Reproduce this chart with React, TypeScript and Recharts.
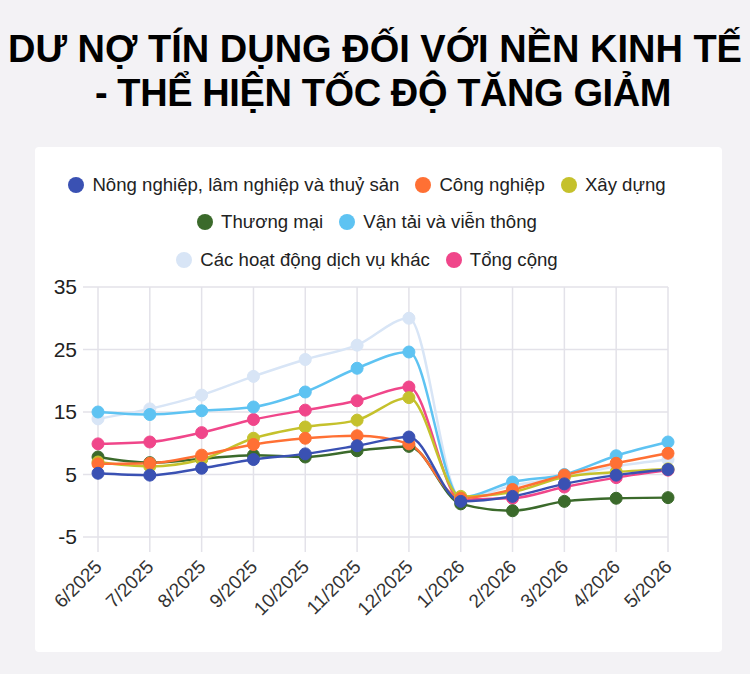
import React from 'react';
import { LineChart, Line, XAxis, YAxis, CartesianGrid, Legend } from 'recharts';

const months = ['6/2025', '7/2025', '8/2025', '9/2025', '10/2025', '11/2025', '12/2025', '1/2026', '2/2026', '3/2026', '4/2026', '5/2026'];
const nongNghiep = [5.2, 4.9, 6.0, 7.4, 8.3, 9.6, 11.0, 0.7, 1.5, 3.5, 4.9, 5.8];
const congNghiep = [6.7, 6.8, 8.1, 9.8, 10.8, 11.2, 9.9, 1.2, 2.6, 4.9, 6.8, 8.4];
const xayDung = [7.0, 6.3, 7.4, 10.8, 12.6, 13.7, 17.3, 1.5, 2.2, 4.6, 5.4, 5.9];
const thuongMai = [7.8, 6.9, 7.5, 8.1, 7.8, 8.8, 9.5, 0.3, -0.8, 0.7, 1.2, 1.3];
const vanTai = [15.0, 14.6, 15.2, 15.8, 18.2, 22.0, 24.6, 1.3, 3.8, 5.0, 8.0, 10.2];
const dichVuKhac = [13.9, 15.5, 17.7, 20.7, 23.4, 25.7, 30.0, 1.2, 3.2, 4.6, 6.3, 7.4];
const tongCong = [9.9, 10.2, 11.7, 13.8, 15.3, 16.8, 19.0, 1.0, 1.2, 3.0, 4.5, 5.7];
const yTicks = [-5, 5, 15, 25, 35];

const seriesNames = [
  'Nông nghiệp, lâm nghiệp và thuỷ sản',
  'Công nghiệp',
  'Xây dựng',
  'Thương mại',
  'Vận tải và viễn thông',
  'Các hoạt động dịch vụ khác',
  'Tổng cộng',
];
const seriesKeys = ['nn', 'cn', 'xd', 'tm', 'vt', 'dv', 'tc'];
const seriesValues = [nongNghiep, congNghiep, xayDung, thuongMai, vanTai, dichVuKhac, tongCong];
const seriesColors = ['#3a51b3', '#ff7034', '#c5c12c', '#3b6a2b', '#5ec3f2', '#d8e5f6', '#f0468a'];
const legendRows = [[0, 1, 2], [3, 4], [5, 6]];

const data = months.map((m, i) => {
  const row: Record<string, any> = { month: m };
  seriesKeys.forEach((k, s) => {
    row[k] = seriesValues[s][i];
  });
  return row;
});

const FONT = '"Liberation Sans", Arial, sans-serif';
const GRID = '#e3e2e9';

const renderLegend = () => (
  <div style={{ height: 122, width: 664, fontFamily: FONT, paddingTop: 1, boxSizing: 'border-box' }}>
    {legendRows.map((row, ri) => (
      <div
        key={ri}
        style={{ display: 'flex', justifyContent: 'center', alignItems: 'center', height: 37.5, gap: 16 }}
      >
        {row.map((si) => (
          <div key={si} style={{ display: 'flex', alignItems: 'center' }}>
            <span
              style={{
                display: 'inline-block',
                width: 16,
                height: 16,
                borderRadius: 8,
                background: seriesColors[si],
                marginRight: 8,
              }}
            />
            <span style={{ fontSize: 18.6, color: '#222' }}>{seriesNames[si]}</span>
          </div>
        ))}
      </div>
    ))}
  </div>
);

const XTick = (props: any) => {
  const { x, y, payload } = props;
  const ax = x + 5;
  const ay = y + 14;
  return (
    <text
      x={ax}
      y={ay}
      transform={`rotate(-45, ${ax}, ${ay})`}
      textAnchor="end"
      fontSize={19}
      fontFamily={FONT}
      fill="#333"
    >
      {payload.value}
    </text>
  );
};

export default function App() {
  const order = [6, 5, 4, 3, 2, 1, 0];
  return (
    <div
      style={{
        position: 'absolute',
        left: 0,
        top: 0,
        width: 750,
        height: 674,
        background: '#f3f2f5',
        fontFamily: FONT,
        overflow: 'hidden',
      }}
    >
      <div
        style={{
          position: 'absolute',
          left: 0,
          top: 30,
          width: 750,
          textAlign: 'center',
          fontSize: 38,
          lineHeight: '38px',
          fontWeight: 'bold',
          color: '#000',
          whiteSpace: 'nowrap',
        }}
      >
        DƯ NỢ TÍN DỤNG ĐỐI VỚI NỀN KINH TẾ
      </div>
      <div
        style={{
          position: 'absolute',
          left: 8,
          top: 74,
          width: 750,
          textAlign: 'center',
          fontSize: 38,
          lineHeight: '38px',
          fontWeight: 'bold',
          color: '#000',
          whiteSpace: 'nowrap',
          letterSpacing: -0.4,
        }}
      >
        - THỂ HIỆN TỐC ĐỘ TĂNG GIẢM
      </div>
      <div
        style={{
          position: 'absolute',
          left: 35,
          top: 147,
          width: 687,
          height: 505,
          background: '#ffffff',
          borderRadius: 4,
        }}
      >
        <LineChart width={687} height={505} data={data} margin={{ top: 18, right: 54, bottom: 0, left: 0 }}>
          <CartesianGrid stroke={GRID} strokeWidth={1.5} />
          <XAxis
            dataKey="month"
            height={115}
            tickSize={15}
            tickLine={{ stroke: GRID, strokeWidth: 1.5 }}
            axisLine={false}
            interval={0}
            tick={<XTick />}
          />
          <YAxis
            width={63}
            domain={[-5, 35]}
            ticks={yTicks}
            tickSize={15}
            tickMargin={6}
            tickLine={{ stroke: GRID, strokeWidth: 1.5 }}
            axisLine={false}
            tick={{ fill: '#222', fontSize: 21, fontFamily: FONT }}
          />
          <Legend verticalAlign="top" content={renderLegend} wrapperStyle={{ top: 18, left: 0, width: 664 }} />
          {order.map((si) => (
            <Line
              key={seriesKeys[si]}
              type="monotone"
              dataKey={seriesKeys[si]}
              name={seriesNames[si]}
              stroke={seriesColors[si]}
              strokeWidth={2.5}
              dot={{ r: 6, fill: seriesColors[si], stroke: seriesColors[si], strokeWidth: 1 }}
              activeDot={false}
              isAnimationActive={false}
            />
          ))}
        </LineChart>
      </div>
    </div>
  );
}
